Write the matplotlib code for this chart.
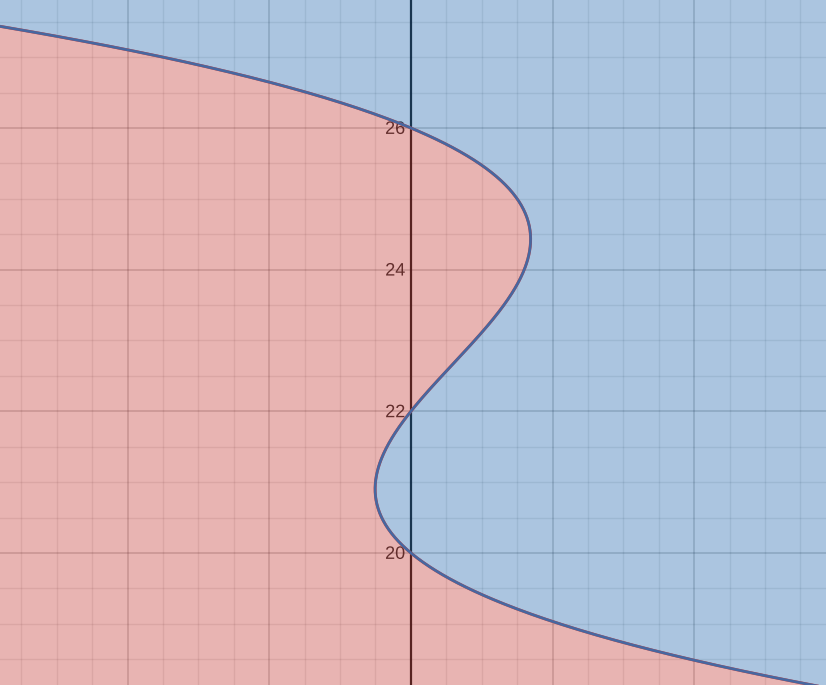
import numpy as np
import matplotlib.pyplot as plt
import matplotlib.patheffects as pe
from matplotlib.ticker import MultipleLocator

# boundary curve x = k*(y-r1)(y-r2)(y-r3)
roots = [20, 22, 26]
k = -0.1
y_labels = [20, 22, 24, 26]

xlim = (-5.80, 5.86)
ylim = (18.136, 27.807)

red = '#c74440'
blue = '#2d70b3'

fig = plt.figure(figsize=(8.26, 6.85), dpi=100)
ax = fig.add_axes([0, 0, 1, 1])
ax.set_xlim(*xlim)
ax.set_ylim(*ylim)

# grid under the fills
ax.xaxis.set_major_locator(MultipleLocator(2))
ax.yaxis.set_major_locator(MultipleLocator(2))
ax.xaxis.set_minor_locator(MultipleLocator(0.5))
ax.yaxis.set_minor_locator(MultipleLocator(0.5))
ax.grid(which='major', color='#000000', alpha=0.22, lw=1.1, zorder=0)
ax.grid(which='minor', color='#000000', alpha=0.09, lw=1.0, zorder=0)
ax.tick_params(which='both', length=0, labelbottom=False, labelleft=False)
for s in ax.spines.values():
    s.set_visible(False)
ax.axvline(0, color='#111111', lw=1.6, zorder=1)

for v in y_labels:
    ax.text(-0.08, v - 0.02, str(v), ha='right', va='center', fontsize=13,
            family='Liberation Sans', color='#222222', zorder=1,
            path_effects=[pe.withStroke(linewidth=3, foreground='white')])

y = np.linspace(ylim[0] - 1, ylim[1] + 1, 800)
x = k * (y - roots[0]) * (y - roots[1]) * (y - roots[2])

ax.fill_betweenx(y, xlim[0] - 5, x, color=red, alpha=0.4, lw=0, zorder=2)
ax.fill_betweenx(y, x, xlim[1] + 5, color=blue, alpha=0.4, lw=0, zorder=2)
ax.plot(x, y, color=red, lw=2.1, zorder=3)
ax.plot(x, y, color='#4767a0', lw=1.9, zorder=4)

fig.savefig('out.png', dpi=100)
